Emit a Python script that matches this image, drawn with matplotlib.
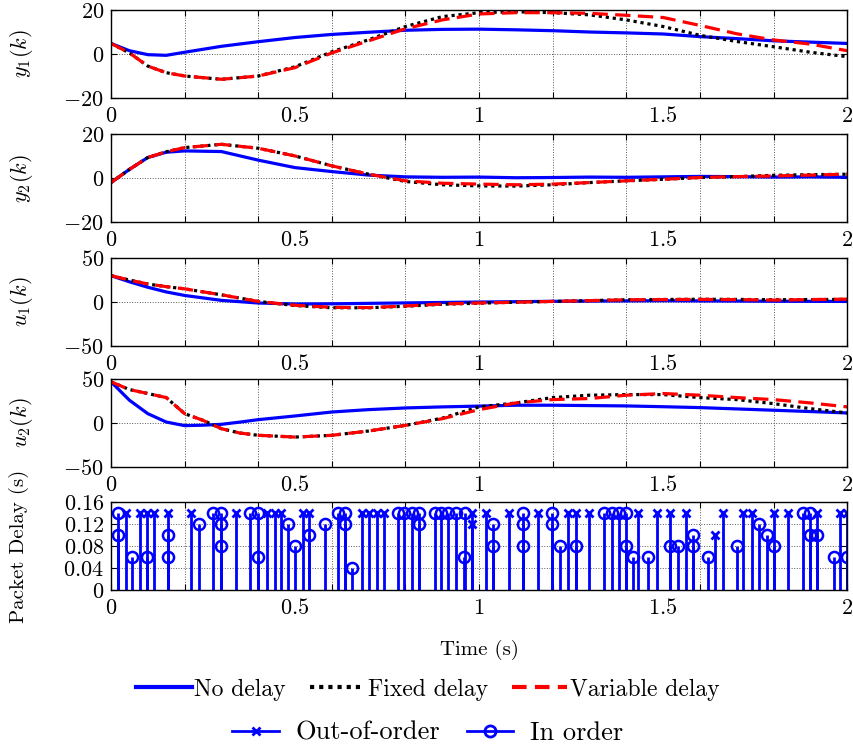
import numpy as np
import matplotlib
matplotlib.use("Agg")
import matplotlib.pyplot as plt
from matplotlib.lines import Line2D
from matplotlib.legend_handler import HandlerLine2D

plt.rcParams['font.family'] = ['cmr10', 'DejaVu Serif']
plt.rcParams['mathtext.fontset'] = 'cm'
plt.rcParams['axes.unicode_minus'] = False

# time grids for the simulated responses
t_std = [0, 0.05, 0.1, 0.15, 0.2, 0.3, 0.4, 0.5, 0.6, 0.7, 0.8, 0.9, 1.0,
         1.1, 1.2, 1.3, 1.4, 1.5, 1.6, 1.7, 1.8, 1.9, 2.0]
t_u2 = [0, 0.05, 0.1, 0.15, 0.2, 0.25, 0.3, 0.35, 0.4, 0.5, 0.6, 0.7, 0.8,
        0.9, 1.0, 1.1, 1.2, 1.3, 1.4, 1.5, 1.6, 1.7, 1.8, 1.9, 2.0]

# outputs
y1_none = [4.8, 1.5, -0.3, -0.6, 0.8, 3.5, 5.6, 7.5, 8.9, 9.9, 10.8, 11.2, 11.3,
           11.0, 10.6, 10.0, 9.6, 9.1, 7.9, 7.0, 6.0, 5.4, 4.8]
y1_fixed = [4.8, 0.5, -5.5, -8.5, -10.0, -11.5, -10.0, -5.8, 1.0, 6.5, 12.5, 17.0, 18.8,
            19.2, 18.8, 17.8, 15.5, 12.5, 8.5, 5.7, 3.3, 0.8, -1.2]
y1_var = [4.8, 0.5, -5.5, -8.5, -10.0, -11.5, -10.0, -6.2, 0.5, 6.0, 11.5, 15.5, 18.2,
          18.8, 18.8, 18.5, 17.6, 16.6, 13.0, 9.2, 6.4, 4.5, 1.5]

y2_none = [-2.0, 4.0, 9.4, 11.8, 12.4, 12.1, 8.2, 4.8, 3.0, 1.4, 0.6, 0.4, 0.5,
           0.2, 0.3, 0.5, 0.4, 0.6, 0.8, 0.7, 0.5, 0.6, 0.4]
y2_fixed = [-2.0, 4.0, 9.4, 12.0, 13.9, 15.4, 13.6, 10.1, 5.6, 1.8, -1.5, -3.0, -3.5,
            -3.6, -3.0, -2.0, -1.2, -0.5, 0.3, 0.7, 1.3, 1.6, 1.8]
y2_var = [-2.0, 4.0, 9.4, 12.0, 13.9, 15.4, 13.6, 10.1, 5.6, 1.8, -1.2, -2.3, -2.7,
          -3.0, -2.7, -2.0, -1.2, -0.5, 0.3, 0.7, 1.0, 1.4, 1.8]

# control inputs
u1_none = [30, 23, 16.8, 11.5, 7.5, 1.9, -1.1, -2.2, -2.0, -1.5, -1.0, -0.5, 0.0,
           0.4, 0.8, 1.1, 1.3, 1.5, 1.3, 1.1, 0.9, 0.8, 0.7]
u1_fixed = [30, 25, 20.5, 17.5, 15, 8.2, 0.7, -4.0, -6.5, -6.5, -4.8, -2.5, -1.3,
            -0.2, 0.7, 1.6, 2.6, 2.9, 3.2, 3.0, 2.6, 2.8, 3.0]
u1_var = [30, 25, 20.5, 17.5, 15, 8.2, 0.7, -3.7, -6.0, -6.3, -4.5, -2.2, -1.1,
          -0.2, 0.7, 1.6, 2.6, 2.8, 3.0, 2.8, 2.2, 2.8, 3.3]

u2_none = [46.8, 25.9, 10.6, 1.1, -3.0, -2.5, -1.5, 1.0, 3.8, 8.0, 12.5, 15.2, 17.1,
           18.3, 19.2, 20.2, 20.2, 19.8, 19.4, 18.5, 17.5, 16.0, 14.5, 13.0, 11.4]
u2_fixed = [46.8, 38, 33.5, 28.9, 10.6, 3.0, -6.5, -11.4, -14.0, -16.0, -14.0, -9.1, -2.7,
            5.5, 18.3, 22.8, 28.9, 31.6, 32.3, 32.3, 28.9, 26.6, 22.0, 16.3, 11.4]
u2_var = [46.8, 38, 33.5, 28.9, 10.6, 3.0, -6.5, -11.4, -14.0, -16.0, -14.0, -9.1, -2.7,
          4.9, 15.2, 22.8, 26.6, 27.8, 31.6, 33.5, 31.6, 28.9, 26.6, 22.8, 18.3]

# packet delays
ooo_t = [0.040, 0.079, 0.097, 0.118, 0.156, 0.217, 0.339, 0.425, 0.445, 0.462, 0.521,
         0.537, 0.682, 0.702, 0.722, 0.741, 0.981, 0.981, 1.018, 1.081, 1.161, 1.242,
         1.263, 1.299, 1.432, 1.482, 1.518, 1.562, 1.641, 1.662, 1.718, 1.741, 1.800,
         1.840, 1.919, 1.981, 1.999]
ooo_d = [0.14, 0.14, 0.14, 0.14, 0.14, 0.14, 0.14, 0.14, 0.14, 0.14, 0.14,
         0.14, 0.14, 0.14, 0.14, 0.14, 0.14, 0.12, 0.14, 0.14, 0.14, 0.14,
         0.14, 0.14, 0.14, 0.14, 0.14, 0.14, 0.10, 0.14, 0.14, 0.14, 0.14,
         0.14, 0.14, 0.14, 0.14]
ino_t = [0.019, 0.019, 0.058, 0.099, 0.156, 0.156, 0.238, 0.278, 0.299, 0.299, 0.299,
         0.377, 0.399, 0.399, 0.480, 0.501, 0.537, 0.580, 0.616, 0.637, 0.637, 0.655,
         0.779, 0.797, 0.818, 0.838, 0.838, 0.879, 0.897, 0.915, 0.938, 0.961, 0.958,
         1.038, 1.038, 1.118, 1.118, 1.118, 1.199, 1.199, 1.219, 1.263, 1.339, 1.360,
         1.380, 1.400, 1.400, 1.419, 1.459, 1.518, 1.541, 1.582, 1.582, 1.621, 1.702,
         1.761, 1.781, 1.800, 1.879, 1.899, 1.899, 1.919, 1.963, 1.999]
ino_d = [0.14, 0.10, 0.06, 0.06, 0.10, 0.06, 0.12, 0.14, 0.14, 0.12, 0.08,
         0.14, 0.14, 0.06, 0.12, 0.08, 0.10, 0.12, 0.14, 0.14, 0.12, 0.04,
         0.14, 0.14, 0.14, 0.14, 0.12, 0.14, 0.14, 0.14, 0.14, 0.14, 0.06,
         0.12, 0.08, 0.14, 0.12, 0.08, 0.14, 0.12, 0.08, 0.08, 0.14, 0.14,
         0.14, 0.14, 0.08, 0.06, 0.06, 0.08, 0.08, 0.10, 0.08, 0.06, 0.08,
         0.12, 0.10, 0.08, 0.14, 0.14, 0.10, 0.10, 0.06, 0.06]

BLUE = '#0000ff'
RED = '#ff0000'
LW = 2.3
FS = 16


class EndMarkerHandler(HandlerLine2D):
    # line handle with its marker at the right end only
    def get_xdata(self, legend, xdescent, ydescent, width, height, fontsize):
        xdata = np.array([-xdescent, -xdescent + width])
        return xdata, np.array([-xdescent + width])


fig = plt.figure(figsize=(8.54, 7.48), dpi=100)

left, width, height = 0.130, 0.862, 0.1176
bottoms = [0.869, 0.703, 0.5374, 0.3757, 0.2112]
axes = [fig.add_axes([left, b, width, height]) for b in bottoms]


def style_axis(ax, yticks, ylabels):
    ax.set_xlim(0, 2)
    ax.xaxis.remove_overlapping_locs = False
    ax.set_xticks(np.arange(0, 2.01, 0.2))
    ax.set_xticklabels([])
    ax.set_xticks([0, 0.5, 1, 1.5, 2], minor=True)
    ax.set_xticklabels(['$0$', '$0.5$', '$1$', '$1.5$', '$2$'], minor=True)
    ax.set_yticks(yticks)
    ax.set_yticklabels(ylabels)
    ax.set_ylim(yticks[0], yticks[-1])
    ax.tick_params(which='major', direction='in', top=True, right=True,
                   length=4, width=0.8, labelsize=FS, pad=5)
    ax.tick_params(which='minor', axis='x', length=0, labelsize=FS, pad=6,
                   top=False)
    ax.grid(True, which='major', linestyle=':', color='0.35', linewidth=0.7)
    for s in ax.spines.values():
        s.set_linewidth(1.0)


panels = [
    (t_std, y1_none, y1_fixed, y1_var, [-20, 0, 20], ['$-20$', '$0$', '$20$'], '$y_1(k)$'),
    (t_std, y2_none, y2_fixed, y2_var, [-20, 0, 20], ['$-20$', '$0$', '$20$'], '$y_2(k)$'),
    (t_std, u1_none, u1_fixed, u1_var, [-50, 0, 50], ['$-50$', '$0$', '$50$'], '$u_1(k)$'),
    (t_u2, u2_none, u2_fixed, u2_var, [-50, 0, 50], ['$-50$', '$0$', '$50$'], '$u_2(k)$'),
]

for ax, (t, a, b, c, yt, yl, lab) in zip(axes[:4], panels):
    ax.plot(t, a, color=BLUE, lw=LW, solid_capstyle='butt')
    ax.plot(t, b, color='black', lw=LW, dashes=(1.0, 1.2))
    ax.plot(t, c, color=RED, lw=LW, dashes=(4.8, 2.3))
    style_axis(ax, yt, yl)
    ax.set_ylabel(lab, fontsize=FS)
    ax.yaxis.set_label_coords(-0.103, 0.5)

# packet delay stems
ax = axes[4]
ml, sl, bl = ax.stem(ooo_t, ooo_d, linefmt='-', markerfmt='x', basefmt=' ')
sl.set_color(BLUE)
sl.set_linewidth(2.0)
ml.set_color(BLUE)
ml.set_markersize(6)
ml.set_markeredgewidth(2.0)
ml, sl, bl = ax.stem(ino_t, ino_d, linefmt='-', markerfmt='o', basefmt=' ')
sl.set_color(BLUE)
sl.set_linewidth(2.0)
ml.set_markerfacecolor('none')
ml.set_markeredgecolor(BLUE)
ml.set_markersize(8)
ml.set_markeredgewidth(1.8)
style_axis(ax, [0, 0.04, 0.08, 0.12, 0.16],
           ['$0$', '$0.04$', '$0.08$', '$0.12$', '$0.16$'])
ax.set_ylabel('Packet Delay (s)', fontsize=15)
ax.yaxis.set_label_coords(-0.112, 0.5)
ax.set_xlabel('Time (s)', fontsize=15)
ax.xaxis.set_label_coords(0.5, -0.57)

# legends
h1 = [Line2D([], [], color=BLUE, lw=3),
      Line2D([], [], color='black', lw=3, dashes=(1.0, 1.2)),
      Line2D([], [], color=RED, lw=3, dashes=(3.5, 2.0))]
fig.legend(h1, ['No delay', 'Fixed delay', 'Variable delay'],
           loc='center', bbox_to_anchor=(0.501, 0.078), ncol=3,
           frameon=False, fontsize=17, handlelength=2.35,
           handletextpad=0.12, columnspacing=1.0)
h2 = [Line2D([], [], color=BLUE, lw=2, marker='x',
             markersize=6, markeredgewidth=2),
      Line2D([], [], color=BLUE, lw=2, marker='o',
             markersize=8, markerfacecolor='none', markeredgewidth=2)]
fig.legend(h2, ['Out-of-order', 'In order'], loc='center',
           bbox_to_anchor=(0.501, 0.020), ncol=2, frameon=False,
           fontsize=19, handlelength=1.75, handletextpad=0.65,
           columnspacing=1.0, handler_map={Line2D: EndMarkerHandler()})

fig.savefig('out.png', dpi=100)
